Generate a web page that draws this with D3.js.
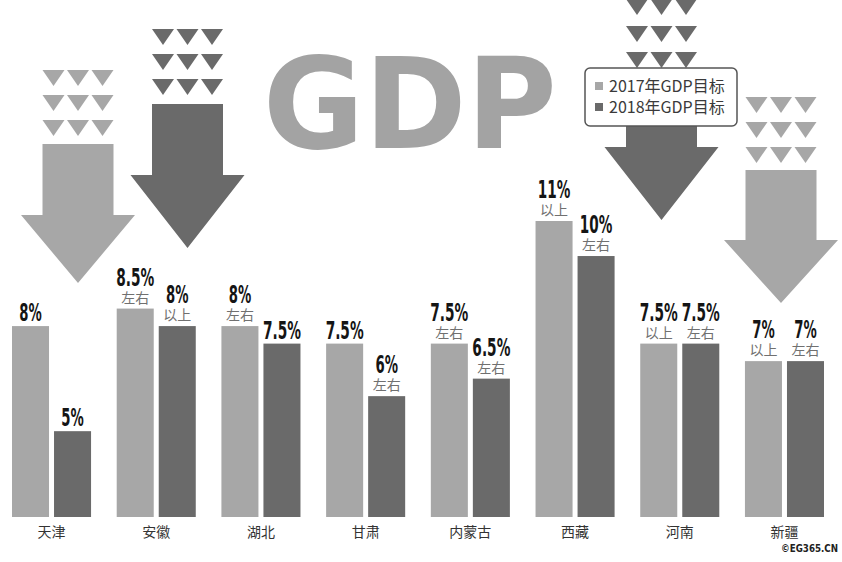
<!DOCTYPE html>
<html><head><meta charset="utf-8">
<script src="https://cdn.jsdelivr.net/npm/d3@7"></script>
<style>html,body{margin:0;padding:0;background:#fff;}svg{display:block;}</style>
</head><body>
<svg id="c" width="842" height="562"></svg>
<script>
const categories = ["天津","安徽","湖北","甘肃","内蒙古","西藏","河南","新疆"];
const seriesNames = ["2017年GDP目标","2018年GDP目标"];
const gdp2017 = [8, 8.5, 8, 7.5, 7.5, 11, 7.5, 7];
const gdp2018 = [5, 8, 7.5, 6, 6.5, 10, 7.5, 7];
const note2017 = ["", "左右", "左右", "", "左右", "以上", "以上", "以上"];
const note2018 = ["", "以上", "", "左右", "左右", "左右", "左右", "左右"];

const LIGHT = "#a7a7a7", DARK = "#6a6a6a";
const colors = [LIGHT, DARK];
const svg = d3.select("#c");

// decorative arrows
const arrows = [
  {cx: 78, rows: [70, 95, 120], shaftTop: 144, headTop: 215, tip: 283, color: LIGHT},
  {cx: 187.5, rows: [29, 54, 79], shaftTop: 104, headTop: 175, tip: 248, color: DARK},
  {cx: 661.5, rows: [-1, 26, 52], shaftTop: 76, headTop: 147, tip: 220, color: DARK},
  {cx: 781, rows: [97, 122, 147], shaftTop: 170, headTop: 240, tip: 303, color: LIGHT}
];
const deco = svg.append("g");
arrows.forEach(a => {
  const g = deco.append("g").attr("fill", a.color);
  a.rows.forEach(ry => {
    [-24.5, 0, 24.5].forEach(dx => {
      const x = a.cx + dx;
      g.append("path").attr("d", `M${x-11},${ry}L${x+11},${ry}L${x},${ry+16}Z`);
    });
  });
  const sw = 35.5, hw = 57;
  g.append("path").attr("d",
    `M${a.cx-sw},${a.shaftTop}L${a.cx+sw},${a.shaftTop}L${a.cx+sw},${a.headTop}L${a.cx+hw},${a.headTop}` +
    `L${a.cx},${a.tip}L${a.cx-hw},${a.headTop}L${a.cx-sw},${a.headTop}Z`);
});

// GDP title
svg.append("text").attr("x", 263).attr("y", 148)
  .attr("textLength", 294).attr("lengthAdjust", "spacingAndGlyphs")
  .style("font-family", "DejaVu Sans").style("font-weight", "bold")
  .style("font-size", "127px").attr("fill", "#a3a3a3").text("GDP");

// legend
const lg = svg.append("g");
lg.append("rect").attr("x", 585).attr("y", 68).attr("width", 152).attr("height", 58)
  .attr("rx", 5).attr("fill", "#fff").attr("stroke", "#555").attr("stroke-width", 1.5);
seriesNames.forEach((s, i) => {
  lg.append("rect").attr("x", 595).attr("y", 82 + i * 21).attr("width", 8).attr("height", 8).attr("fill", colors[i]);
  lg.append("text").attr("x", 609).attr("y", 92 + i * 21)
    .style("font-family", "'Noto Sans CJK SC', sans-serif").style("font-size", "16px")
    .attr("fill", "#3a3a3a").text(s);
});

// scales
const x0 = d3.scaleBand().domain(categories).range([12, 824]).paddingInner(0.245).paddingOuter(0);
const x1 = d3.scaleBand().domain([0, 1]).range([0, x0.bandwidth()]).paddingInner(0.119);
const y = d3.scaleLinear().domain([2.55, 11]).range([517, 221]);

const data = [];
categories.forEach((c, i) => {
  data.push({c, s: 0, v: gdp2017[i], note: note2017[i]});
  data.push({c, s: 1, v: gdp2018[i], note: note2018[i]});
});

const bars = svg.append("g");
bars.selectAll("rect").data(data).join("rect")
  .attr("x", d => x0(d.c) + x1(d.s))
  .attr("y", d => y(d.v))
  .attr("width", x1.bandwidth())
  .attr("height", d => y.range()[0] - y(d.v))
  .attr("fill", d => colors[d.s]);

// condensed label width per character
const charW = ch => ch === "%" ? 12.5 : ch === "." ? 5.5 : 10;
const labelW = s => Array.from(s).reduce((a, ch) => a + charW(ch), 0);

const lab = svg.append("g");
data.forEach(d => {
  const cx = x0(d.c) + x1(d.s) + x1.bandwidth() / 2;
  const top = y(d.v);
  const vy = d.note ? top - 23 : top - 5;
  const t = d.v + "%";
  const w = labelW(t);
  lab.append("text")
    .attr("x", cx - w / 2).attr("y", vy)
    .attr("textLength", w).attr("lengthAdjust", "spacingAndGlyphs")
    .style("font-family", "'DejaVu Sans Condensed', 'DejaVu Sans', sans-serif")
    .style("font-weight", "bold").style("font-size", "25px")
    .attr("fill", "#151515").text(t);
  if (d.note) {
    lab.append("text").attr("x", cx).attr("y", top - 6)
      .attr("text-anchor", "middle")
      .style("font-family", "'Noto Sans CJK SC', sans-serif").style("font-size", "14px")
      .attr("fill", "#707070").text(d.note);
  }
});

// category labels
svg.append("g").selectAll("text").data(categories).join("text")
  .attr("x", d => x0(d) + x0.bandwidth() / 2).attr("y", 537)
  .attr("text-anchor", "middle")
  .style("font-family", "'Noto Sans CJK SC', sans-serif").style("font-size", "14px")
  .attr("fill", "#333").text(d => d);

// watermark
svg.append("text").attr("x", 781).attr("y", 552)
  .attr("textLength", 57).attr("lengthAdjust", "spacingAndGlyphs")
  .style("font-family", "'DejaVu Sans Condensed', sans-serif")
  .style("font-weight", "bold").style("font-size", "10px").attr("fill", "#222").text("©EG365.CN");
</script>
</body></html>
